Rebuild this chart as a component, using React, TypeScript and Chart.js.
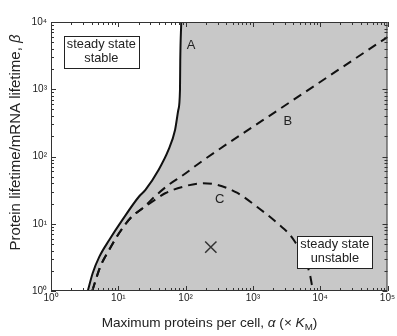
import React, { useEffect, useRef } from 'react';
import { Chart, registerables } from 'chart.js';

Chart.register(...registerables);

// Axis ranges and ticks
const X_MIN = 1;
const X_MAX = 100000;
const Y_MIN = 1;
const Y_MAX = 10000;
const X_TICKS = [1, 10, 100, 1000, 10000, 100000];
const Y_TICKS = [1, 10, 100, 1000, 10000];
const SUPERSCRIPTS = ['⁰', '¹', '²', '³', '⁴', '⁵'];

// Curve A (solid boundary)
const A_ALPHA = [3.52, 4.17, 5.23, 7.33, 11.5, 20.2, 25.3, 39.6, 55.6, 69.7, 77.9, 82.5, 83.3, 86.2];
const A_BETA = [1, 1.85, 3.24, 5.73, 11.4, 25.2, 31.8, 63, 125, 248, 492, 975, 2720, 10000];

// Curve B (dashed, rising)
const B_ALPHA = [4.1, 5.4, 7.3, 10.3, 15.8, 23.0, 34.5, 55.6, 92.2, 171, 3780, 100000];
const B_BETA = [1, 2.3, 4.07, 7.28, 12.7, 17.0, 25.2, 37.7, 53.1, 83.7, 669, 5980];

// Curve C (dashed, hump)
const C_ALPHA = [4.1, 5.4, 7.3, 10.3, 15.8, 23.0, 34.5, 49.7, 92.2, 181, 301, 590, 1161, 2278, 4050, 6950, 7800];
const C_BETA = [1, 2.3, 4.07, 7.28, 12.7, 17.0, 22.5, 28.4, 35.6, 40, 37.7, 28.7, 17.7, 10.3, 5.73, 1.85, 1];

// Marker
const MARK_ALPHA = [237];
const MARK_BETA = [4.5];

// Curve letters
const LETTERS = ['A', 'B', 'C'];
const LETTER_ALPHA = [121, 3300, 322];
const LETTER_BETA = [4550, 337, 23.3];

// Text boxes
const BOX_LINES = [['steady state', 'stable'], ['steady state', 'unstable']];
const BOX_ALPHA = [5.6, 16500];
const BOX_BETA = [3640, 3.87];

const X_TITLE = [
  { t: 'Maximum proteins per cell, ', italic: false, sub: false },
  { t: 'α', italic: true, sub: false },
  { t: ' (× ', italic: false, sub: false },
  { t: 'K', italic: true, sub: false },
  { t: 'M', italic: false, sub: true },
  { t: ')', italic: false, sub: false },
];
const Y_TITLE = [
  { t: 'Protein lifetime/mRNA lifetime, ', italic: false, sub: false },
  { t: 'β', italic: true, sub: false },
];

const FONT = '"Liberation Sans", Arial, sans-serif';
const GREY = '#c8c8c8';

function pts(xs: number[], ys: number[]) {
  return xs.map((x, i) => ({ x, y: ys[i] }));
}

function tickLabel(v: number) {
  const e = Math.round(Math.log10(v));
  return '10' + SUPERSCRIPTS[e];
}

function drawRich(ctx: CanvasRenderingContext2D, segs: any[], size: number, x0: number, y0: number, center: boolean) {
  const fontOf = (s: any) => `${s.italic ? 'italic ' : ''}${s.sub ? size * 0.72 : size}px ${FONT}`;
  let total = 0;
  for (const s of segs) {
    ctx.font = fontOf(s);
    total += ctx.measureText(s.t).width;
  }
  let x = center ? x0 - total / 2 : x0;
  ctx.textAlign = 'left';
  ctx.textBaseline = 'alphabetic';
  for (const s of segs) {
    ctx.font = fontOf(s);
    ctx.fillText(s.t, x, y0 + (s.sub ? size * 0.25 : 0));
    x += ctx.measureText(s.t).width;
  }
}

const decorPlugin = {
  id: 'decor',
  afterDatasetsDraw(chart: any) {
    const { ctx, chartArea } = chart;
    const xs = chart.scales.x;
    const ys = chart.scales.y;
    const { left, right, top, bottom } = chartArea;
    ctx.save();
    // frame
    ctx.strokeStyle = '#333';
    ctx.lineWidth = 1;
    ctx.strokeRect(left + 0.5, top + 0.5, right - left - 1, bottom - top - 1);
    // ticks
    ctx.beginPath();
    for (let d = 0; d <= 5; d++) {
      for (let m = 1; m <= 9; m++) {
        const v = m * Math.pow(10, d);
        if (v > X_MAX) break;
        const px = Math.round(xs.getPixelForValue(v)) + 0.5;
        const len = m === 1 ? 5 : 3;
        ctx.moveTo(px, bottom);
        ctx.lineTo(px, bottom - len);
        ctx.moveTo(px, top);
        ctx.lineTo(px, top + len);
      }
    }
    for (let d = 0; d <= 4; d++) {
      for (let m = 1; m <= 9; m++) {
        const v = m * Math.pow(10, d);
        if (v > Y_MAX) break;
        const py = Math.round(ys.getPixelForValue(v)) + 0.5;
        const len = m === 1 ? 5 : 3;
        ctx.moveTo(left, py);
        ctx.lineTo(left + len, py);
        ctx.moveTo(right, py);
        ctx.lineTo(right - len, py);
      }
    }
    ctx.stroke();

    // letters
    ctx.fillStyle = '#222';
    ctx.font = `13px ${FONT}`;
    ctx.textAlign = 'center';
    ctx.textBaseline = 'middle';
    LETTERS.forEach((l, i) => {
      ctx.fillText(l, xs.getPixelForValue(LETTER_ALPHA[i]), ys.getPixelForValue(LETTER_BETA[i]));
    });

    // boxes
    const fs = 12.8;
    ctx.font = `${fs}px ${FONT}`;
    BOX_LINES.forEach((lines, i) => {
      const cx = xs.getPixelForValue(BOX_ALPHA[i]);
      const cy = ys.getPixelForValue(BOX_BETA[i]);
      const w = Math.max(...lines.map((s) => ctx.measureText(s).width)) + 6;
      const lh = fs * 1.08;
      const h = lh * lines.length + 4;
      const bx = Math.round(cx - w / 2) + 0.5;
      const by = Math.round(cy - h / 2) + 0.5;
      ctx.fillStyle = '#fff';
      ctx.fillRect(bx, by, Math.round(w), Math.round(h));
      ctx.strokeStyle = '#222';
      ctx.strokeRect(bx, by, Math.round(w), Math.round(h));
      ctx.fillStyle = '#222';
      ctx.textAlign = 'center';
      ctx.textBaseline = 'middle';
      lines.forEach((s, j) => {
        ctx.fillText(s, cx, cy + (j - (lines.length - 1) / 2) * lh);
      });
    });
    ctx.restore();
  },
  afterDraw(chart: any) {
    const { ctx } = chart;
    ctx.save();
    ctx.fillStyle = '#222';
    drawRich(ctx, X_TITLE, 13.6, 209.5, 327, true);
    ctx.translate(20, 142.5);
    ctx.rotate(-Math.PI / 2);
    drawRich(ctx, Y_TITLE, 15, 0, 0, true);
    ctx.restore();
  },
};

export default function App() {
  const ref = useRef<HTMLCanvasElement>(null);
  useEffect(() => {
    document.body.style.margin = '0';
    const canvas = ref.current;
    if (!canvas) return;
    const fillData = [...pts(A_ALPHA, A_BETA), { x: X_MAX, y: Y_MAX }];
    const chart = new Chart(canvas, {
      type: 'line',
      data: {
        datasets: [
          {
            label: 'region',
            data: fillData,
            fill: 'start',
            backgroundColor: GREY,
            borderColor: 'rgba(0,0,0,0)',
            borderWidth: 0,
            pointRadius: 0,
            cubicInterpolationMode: 'monotone',
            order: 4,
          },
          {
            label: 'A',
            data: pts(A_ALPHA, A_BETA),
            fill: false,
            borderColor: '#111',
            borderWidth: 2,
            pointRadius: 0,
            cubicInterpolationMode: 'monotone',
            order: 3,
          },
          {
            label: 'B',
            data: pts(B_ALPHA, B_BETA),
            fill: false,
            borderColor: '#111',
            borderWidth: 2,
            borderDash: [9, 6],
            pointRadius: 0,
            cubicInterpolationMode: 'monotone',
            order: 2,
          },
          {
            label: 'C',
            data: pts(C_ALPHA, C_BETA),
            fill: false,
            borderColor: '#111',
            borderWidth: 2,
            borderDash: [9, 6],
            pointRadius: 0,
            cubicInterpolationMode: 'monotone',
            order: 1,
          },
          {
            label: 'marker',
            data: pts(MARK_ALPHA, MARK_BETA),
            showLine: false,
            pointStyle: 'crossRot',
            pointRadius: 8,
            pointBorderWidth: 1.5,
            borderColor: '#333',
            backgroundColor: '#333',
            order: 0,
          },
        ],
      },
      options: {
        animation: false,
        responsive: false,
        devicePixelRatio: 1,
        parsing: false as any,
        layout: { padding: { top: 22, right: 5, left: 0, bottom: 0 } },
        plugins: { legend: { display: false }, tooltip: { enabled: false } },
        scales: {
          x: {
            type: 'logarithmic',
            min: X_MIN,
            max: X_MAX,
            grid: { display: false, drawTicks: false },
            border: { display: false },
            ticks: {
              callback: (v: any) => tickLabel(Number(v)),
              font: { family: FONT, size: 10 },
              color: '#222',
              maxRotation: 0,
              autoSkip: false,
              padding: 1,
            },
            afterBuildTicks: (s: any) => {
              s.ticks = X_TICKS.map((v) => ({ value: v }));
            },
            afterFit: (s: any) => {
              s.height = 45;
              s.paddingLeft = 0;
              s.paddingRight = 0;
            },
          },
          y: {
            type: 'logarithmic',
            min: Y_MIN,
            max: Y_MAX,
            grid: { display: false, drawTicks: false },
            border: { display: false },
            ticks: {
              callback: (v: any) => tickLabel(Number(v)),
              font: { family: FONT, size: 10 },
              color: '#222',
              autoSkip: false,
              padding: 4,
            },
            afterBuildTicks: (s: any) => {
              s.ticks = Y_TICKS.map((v) => ({ value: v }));
            },
            afterFit: (s: any) => {
              s.width = 51;
              s.paddingTop = 0;
              s.paddingBottom = 0;
            },
          },
        },
      },
      plugins: [decorPlugin],
    } as any);
    return () => chart.destroy();
  }, []);
  return (
    <div style={{ width: 397, height: 336 }}>
      <canvas ref={ref} width={397} height={336} style={{ display: 'block' }} />
    </div>
  );
}
